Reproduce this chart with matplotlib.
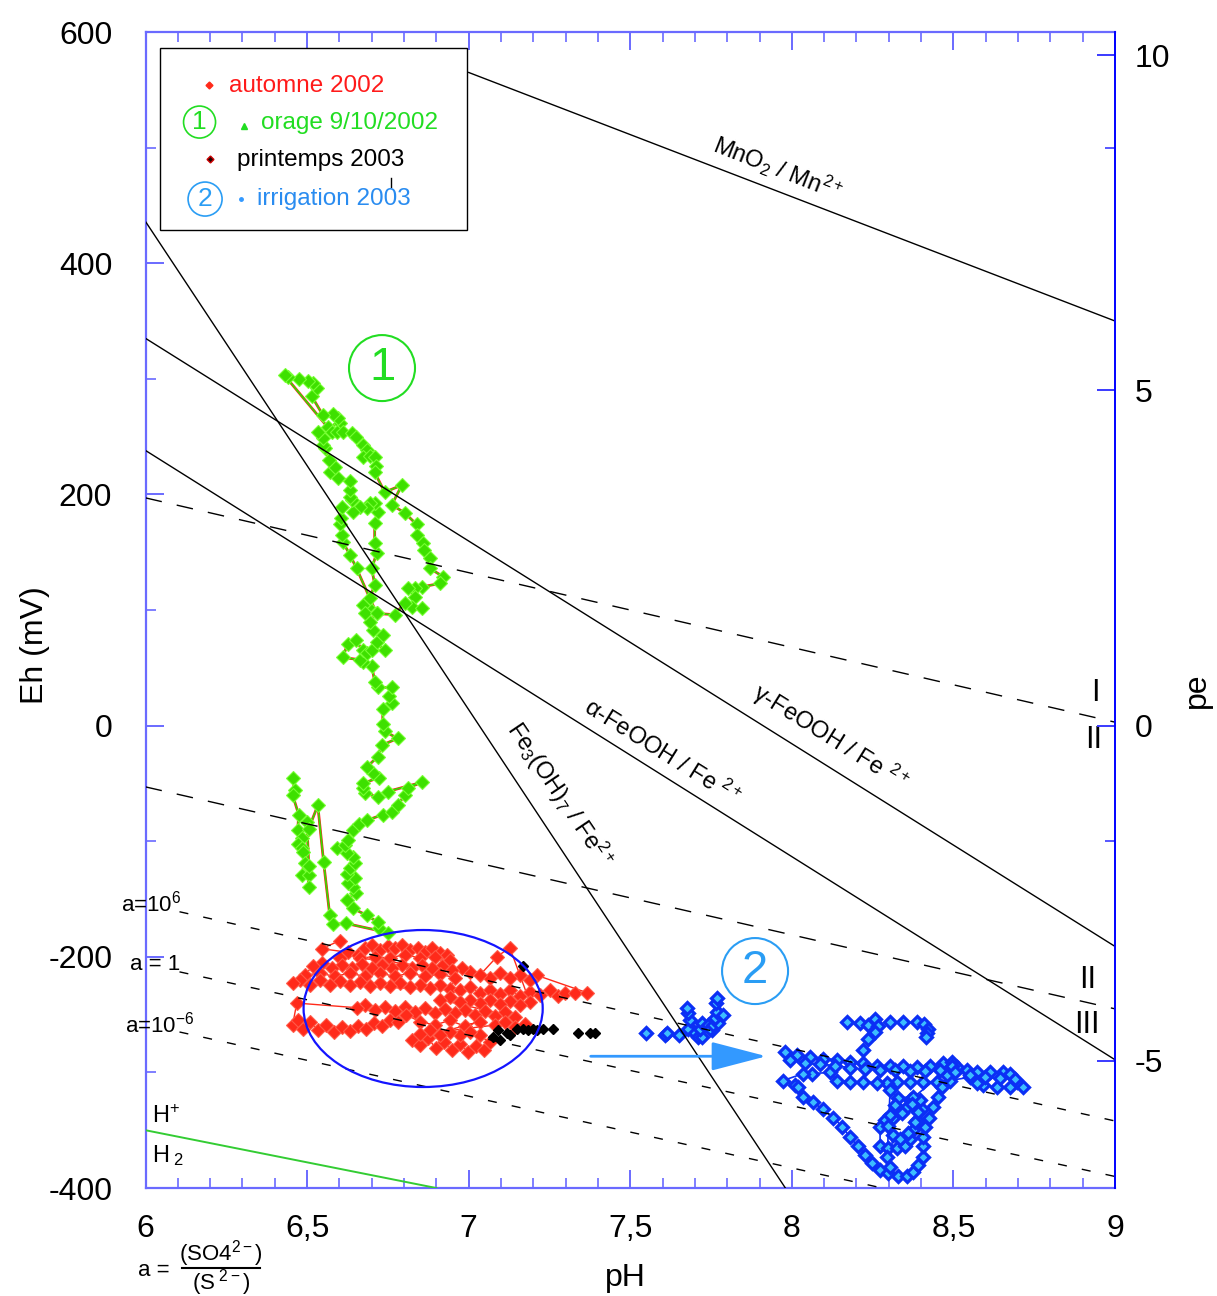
import matplotlib
matplotlib.use('Agg')
import matplotlib.pyplot as plt
from matplotlib.patches import Ellipse, Rectangle, FancyArrowPatch, ArrowStyle
from matplotlib.lines import Line2D
from matplotlib.ticker import MultipleLocator, FixedLocator, FuncFormatter

plt.rcParams['font.family'] = ['Liberation Sans', 'DejaVu Sans']
plt.rcParams['mathtext.fontset'] = 'custom'
plt.rcParams['mathtext.rm'] = 'Liberation Sans'
plt.rcParams['mathtext.it'] = 'Liberation Sans:italic'
plt.rcParams['mathtext.bf'] = 'Liberation Sans:bold'

# ---------------- data ----------------
# storm of 9/10/2002 (green)
orage_ph = [6.455, 6.461, 6.455, 6.474, 6.471, 6.483, 6.471, 6.483, 6.486, 6.492, 6.483, 6.505, 6.505, 6.505, 6.499, 6.505, 6.533, 6.551, 6.570, 6.579, 6.619,
            6.749, 6.722, 6.718, 6.684, 6.641, 6.622, 6.650, 6.641, 6.626, 6.647, 6.622, 6.632, 6.647, 6.641, 6.622, 6.592, 6.616, 6.626, 6.641, 6.660,
            6.684, 6.734, 6.762, 6.780, 6.802, 6.811, 6.855, 6.749, 6.718, 6.678, 6.672, 6.672, 6.722, 6.703, 6.684, 6.718, 6.731, 6.780, 6.740, 6.734,
            6.734, 6.762, 6.753, 6.762, 6.718, 6.709, 6.700, 6.672, 6.663, 6.610, 6.626, 6.650, 6.672, 6.684, 6.700, 6.740, 6.715, 6.734, 6.703, 6.694,
            6.715, 6.688, 6.672,
            6.678, 6.694, 6.709, 6.700, 6.715, 6.709, 6.709, 6.718, 6.709, 6.694, 6.684, 6.663, 6.641, 6.638, 6.632, 6.632, 6.632, 6.595, 6.570, 6.585,
            6.567, 6.554, 6.548, 6.548, 6.533, 6.564, 6.601, 6.595, 6.579, 6.548, 6.514, 6.530, 6.517, 6.502, 6.474, 6.440, 6.430,
            6.576, 6.592, 6.610, 6.638, 6.650, 6.672, 6.684, 6.672, 6.694, 6.709, 6.712, 6.709, 6.740, 6.793, 6.762, 6.802, 6.839, 6.839, 6.858, 6.861,
            6.880, 6.880, 6.920, 6.911, 6.855, 6.833, 6.811, 6.833, 6.824, 6.855, 6.802, 6.771, 6.715,
            6.653, 6.632, 6.610, 6.607, 6.601, 6.604, 6.607]
orage_eh = [-45, -56, -60, -77, -90, -97, -102, -106, -109, -119, -129, -129, -140, -121, -83, -89, -69, -118, -164, -172, -171,
            -179, -175, -170, -164, -158, -151, -145, -140, -136, -132, -128, -123, -119, -114, -110, -106, -103, -99, -90, -85,
            -82, -77, -75, -69, -60, -54, -49, -57, -62, -58, -54, -50, -45, -41, -36, -27, -17, -11, -5, 1,
            14, 20, 26, 33, 33, 38, 52, 55, 57, 59, 71, 74, 65, 63, 65, 65, 72, 78, 83, 90,
            97, 103, 104,
            97, 110, 122, 136, 149, 158, 175, 185, 193, 193, 188, 189, 185, 195, 198, 204, 212, 214, 219, 224,
            230, 240, 243, 249, 254, 258, 262, 266, 270, 269, 285, 292, 296, 298, 300, 302, 303,
            254, 254, 254, 253, 250, 243, 238, 232, 233, 232, 225, 219, 202, 208, 191, 184, 174, 165, 158, 152,
            145, 136, 129, 123, 120, 119, 119, 111, 103, 102, 106, 96, 97,
            136, 148, 159, 165, 174, 180, 189]

# autumn 2002 (red)
automne_ph = [6.601, 6.545, 6.626, 6.601, 6.657,
              6.678, 6.700, 6.725, 6.749, 6.771, 6.793, 6.818, 6.842, 6.864, 6.886, 6.911, 6.932,
              6.941, 6.895, 6.849, 6.802, 6.756, 6.709, 6.663,
              7.003, 6.979, 6.948, 6.917, 6.886, 6.855, 6.824, 6.793, 6.762, 6.731, 6.700, 6.669, 6.638, 6.607, 6.576, 6.545, 6.517,
              6.492, 6.539, 6.585, 6.632, 6.678, 6.725, 6.771, 6.818, 6.864, 6.911, 6.957,
              6.941, 6.911, 6.880, 6.849, 6.818, 6.787, 6.756, 6.725, 6.694, 6.663, 6.632, 6.601, 6.570, 6.539, 6.508, 6.477, 6.455,
              6.972, 7.003, 7.034, 7.065, 7.096, 7.127, 7.158, 7.189, 7.220, 7.251, 7.276, 7.298, 7.329, 7.366,
              7.211, 7.189, 7.158, 7.127, 7.096, 7.065, 7.034, 7.087, 7.127,
              7.189, 7.158, 7.127, 7.096, 7.065, 7.034, 7.003, 6.972, 6.941, 6.911,
              7.143, 7.112, 7.081, 7.050, 7.019, 6.988, 6.957, 6.926, 6.895, 6.864, 6.833, 6.802, 6.771, 6.740, 6.709, 6.678, 6.653,
              6.468, 6.455, 6.471, 6.486, 6.508, 6.533, 6.557, 6.582, 6.607, 6.632, 6.657, 6.681, 6.706, 6.731, 6.756, 6.780, 6.805,
              6.849, 6.895, 6.941, 6.988, 7.034,
              6.824, 6.849, 6.873, 6.898, 6.923, 6.948, 6.972, 6.997, 7.022, 7.047, 7.065, 7.034, 7.003, 6.972, 6.941, 6.911, 6.880, 6.849,
              7.081, 7.112, 7.143, 7.174]
automne_eh = [-186, -193, -196, -201, -198,
              -192, -190, -194, -191, -192, -190, -194, -192, -196, -192, -197, -198,
              -203, -200, -201, -198, -201, -200, -201,
              -213, -210, -211, -208, -210, -207, -210, -207, -210, -207, -210, -206, -210, -207, -210, -205, -208,
              -216, -214, -217, -214, -217, -214, -217, -214, -217, -215, -218,
              -228, -224, -227, -224, -226, -223, -225, -223, -225, -222, -224, -221, -224, -220, -224, -220, -223,
              -229, -226, -231, -229, -232, -229, -234, -230, -233, -229, -234, -231, -231, -231,
              -216, -220, -216, -218, -214, -218, -216, -200, -192,
              -239, -242, -238, -241, -237, -240, -237, -239, -235, -237,
              -252, -248, -251, -247, -250, -246, -249, -245, -249, -244, -248, -243, -247, -243, -246, -242, -244,
              -240, -259, -255, -262, -256, -263, -259, -265, -261, -264, -260, -262, -257, -260, -255, -256, -250,
              -256, -259, -255, -260, -256,
              -272, -276, -270, -279, -274, -281, -275, -282, -277, -281, -274, -268, -265, -268, -265, -268, -263, -267,
              -259, -256, -261, -258]

# spring 2003 (black)
printemps_ph = [7.168, 7.090, 7.075, 7.096, 7.118, 7.127, 7.149, 7.168, 7.183, 7.199, 7.211, 7.230, 7.260, 7.338, 7.375, 7.391]
printemps_eh = [-208, -263, -269, -272, -266, -268, -262, -262, -263, -262, -263, -262, -262, -266, -266, -266]

# irrigation 2003 (blue)
irrig_a_ph = [7.691, 7.679, 7.685, 7.679, 7.675, 7.700, 7.710, 7.722, 7.716, 7.722, 7.741, 7.753, 7.747, 7.756, 7.771, 7.762, 7.768, 7.765, 7.768, 7.787]
irrig_a_eh = [-263, -262, -255, -249, -244, -266, -269, -269, -262, -257, -259, -263, -262, -259, -257, -253, -248, -240, -236, -250]
irrig_pts_ph = [7.549, 7.607, 7.614, 7.651, 8.171, 8.211, 8.236, 8.258, 8.267, 8.258, 8.236, 8.221, 8.304, 8.344, 8.388, 8.409, 8.422, 8.419, 8.416]
irrig_pts_eh = [-266, -268, -266, -268, -256, -257, -259, -254, -260, -265, -271, -281, -256, -256, -256, -258, -262, -266, -269]
irrig_b_ph = [7.979, 8.016, 8.056, 8.097, 8.140, 8.180, 8.221, 8.264, 8.304, 8.344, 8.388, 8.428, 8.468, 8.496, 8.512, 8.543, 8.574, 8.614, 8.654, 8.676,
              8.697, 8.716, 8.676, 8.636, 8.592, 8.574, 8.552, 8.490, 8.450, 8.406, 8.366, 8.326, 8.295, 8.264, 8.221, 8.180, 8.140, 8.118, 8.063, 8.035,
              7.973, 8.010, 8.019, 8.035, 8.066, 8.097, 8.128, 8.156, 8.180, 8.205, 8.227, 8.248, 8.273, 8.298, 8.329, 8.357, 8.375, 8.391, 8.406, 8.406,
              8.406, 8.412, 8.425, 8.437, 8.453, 8.465, 8.481, 8.496,
              8.366, 8.357, 8.341, 8.313, 8.289, 8.273, 8.273, 8.298, 8.326, 8.351, 8.366, 8.375, 8.388, 8.403, 8.397, 8.375, 8.329, 8.304, 8.295, 8.304,
              8.320, 8.304, 8.298, 8.313, 8.335, 8.360, 8.382, 8.391, 8.372]
irrig_b_eh = [-282, -285, -287, -288, -289, -291, -292, -294, -294, -294, -295, -294, -292, -291, -295, -298, -300, -300, -300, -301,
              -308, -313, -313, -313, -311, -309, -304, -307, -308, -308, -308, -308, -309, -309, -308, -308, -307, -300, -301, -301,
              -307, -311, -313, -321, -326, -332, -339, -347, -356, -364, -371, -378, -384, -387, -390, -390, -386, -380, -373, -364,
              -356, -347, -339, -330, -321, -313, -302, -294,
              -324, -330, -335, -339, -341, -347, -364, -365, -365, -364, -358, -350, -341, -332, -324, -321, -322, -315, -373, -382,
              -328, -337, -346, -354, -358, -352, -343, -334, -327]
irrig_c_ph = [7.994, 8.041, 8.087, 8.134, 8.180, 8.227, 8.273, 8.320, 8.366, 8.413, 8.459, 8.505, 8.552, 8.598, 8.645, 8.691]
irrig_c_eh = [-289, -292, -293, -294, -296, -297, -298, -298, -299, -299, -298, -300, -302, -304, -305, -306]

# stability boundaries (pH, Eh endpoints)
mn_ph, mn_eh = [7.0, 9.0], [565, 350]
fe3_ph, fe3_eh = [6.0, 7.98], [436, -400]
gam_ph, gam_eh = [6.0, 9.0], [335, -191]
alp_ph, alp_eh = [6.0, 9.0], [238, -289]
dI_ph, dI_eh = [6.0, 9.0], [197, 3]
dII_ph, dII_eh = [6.0, 9.0], [-53, -245]
a6_ph, a6_eh = [6.105, 9.0], [-161, -342]
a0_ph, a0_eh = [6.105, 9.0], [-213, -390]
am6_ph, am6_eh = [6.105, 8.28], [-265, -400]
h_ph, h_eh = [6.0, 6.9], [-350, -400]

x_ticks = [6, 6.5, 7, 7.5, 8, 8.5, 9]
y_ticks = [-400, -200, 0, 200, 400, 600]
pe_ticks = [-5, 0, 5, 10]
PE_FACTOR = 58.0

# ---------------- figure ----------------
fig = plt.figure(figsize=(12.17, 12.96), dpi=100)
ax = fig.add_axes([0.1196, 0.0833, 0.7966, 0.8920])
ax.set_xlim(6, 9)
ax.set_ylim(-400, 600)

spine_c = '#6a6aff'
for s in ['left', 'top', 'bottom']:
    ax.spines[s].set_color(spine_c)
    ax.spines[s].set_linewidth(1.6)
ax.spines['right'].set_visible(False)

ax.xaxis.set_major_locator(FixedLocator(x_ticks))
ax.xaxis.set_minor_locator(MultipleLocator(0.1))
ax.yaxis.set_major_locator(FixedLocator(y_ticks))
ax.yaxis.set_minor_locator(MultipleLocator(100))
ax.xaxis.set_major_formatter(FuncFormatter(lambda v, p: ('%g' % v).replace('.', ',')))
ax.yaxis.set_major_formatter(FuncFormatter(lambda v, p: '%d' % v))
ax.tick_params(which='both', direction='in', top=True, right=False, color=spine_c)
ax.tick_params(which='major', length=13, width=1.4, labelsize=23)
ax.tick_params(which='minor', length=7, width=1.2)
ax.tick_params(axis='x', which='major', pad=19)
ax.tick_params(axis='y', which='major', pad=24)

ax2 = ax.twinx()
ax2.set_ylim(-400 / PE_FACTOR, 600 / PE_FACTOR)
for s in ['left', 'top', 'bottom']:
    ax2.spines[s].set_visible(False)
ax2.spines['right'].set_color('#0000ff')
ax2.spines['right'].set_linewidth(1.4)
ax2.yaxis.set_major_locator(FixedLocator(pe_ticks))
ax2.yaxis.set_minor_locator(FixedLocator([500 / PE_FACTOR, -100 / PE_FACTOR]))
ax2.yaxis.set_major_formatter(FuncFormatter(lambda v, p: '%d' % v))
ax2.tick_params(which='both', direction='in', color='#3a3aff')
ax2.tick_params(which='major', length=13, width=1.4, labelsize=23, pad=14)
ax2.tick_params(which='minor', length=7, width=1.2)

# boundary lines
lk = dict(color='black', lw=1.0, zorder=6)
ax.plot(mn_ph, mn_eh, **lk)
ax.plot(fe3_ph, fe3_eh, **lk)
ax.plot(gam_ph, gam_eh, **lk)
ax.plot(alp_ph, alp_eh, **lk)
ax.plot(dI_ph, dI_eh, color='black', lw=1.0, dashes=(12, 11), zorder=6)
ax.plot(dII_ph, dII_eh, color='black', lw=1.0, dashes=(12, 11), zorder=6)
for xs, ys in [(a6_ph, a6_eh), (a0_ph, a0_eh), (am6_ph, am6_eh)]:
    ax.plot(xs, ys, color='black', lw=1.0, dashes=(6.5, 11), zorder=6)
ax.plot(h_ph, h_eh, color='#33cc33', lw=1.4, zorder=6)

# data series
ax.plot(automne_ph, automne_eh, '-', color='#ff2a1a', lw=1.0, zorder=3)
ax.plot(automne_ph, automne_eh, 'D', ms=7.0, mfc='#ff2a1a', mec='#ff5a48', mew=0.8, zorder=3, ls='none')
ax.plot(orage_ph, orage_eh, '-', color='#ff2020', lw=2.0, zorder=3.5)
ax.plot(orage_ph, orage_eh, '-', color='#33dd00', lw=1.2, zorder=3.6)
ax.plot(orage_ph, orage_eh, 'D', ms=7.0, mfc='#3ee000', mec='#77ff33', mew=0.8, zorder=3.7, ls='none')
ax.plot(printemps_ph, printemps_eh, 'D', ms=5.5, mfc='black', mec='black', zorder=4, ls='none')
blue_mk = dict(marker='D', ms=6.3, mfc='#3cbcff', mec='#0b2ff5', mew=2.3, ls='none', zorder=4)
for xs, ys in [(irrig_a_ph, irrig_a_eh), (irrig_b_ph, irrig_b_eh), (irrig_c_ph, irrig_c_eh)]:
    ax.plot(xs, ys, '-', color='#0b2ff5', lw=1.2, zorder=4)
    ax.plot(xs, ys, **blue_mk)
ax.plot(irrig_pts_ph, irrig_pts_eh, **blue_mk)

# ellipse around autumn cluster
ax.add_patch(Ellipse((6.859, -244.7), 0.740, 135.8, fill=False, ec='#1414ff', lw=1.6, zorder=8))

# arrow
ax.add_patch(FancyArrowPatch((7.369, -286), (7.93, -286),
                             arrowstyle=ArrowStyle('-|>', head_length=1.15, head_width=0.3),
                             mutation_scale=30, color='#3399ff', lw=2, zorder=8))

# numbered circles
def circ(cx, cy, r_px, color, txt, fs, lw=1.5):
    w = 2 * r_px / (ax.bbox.width)
    h = 2 * r_px / (ax.bbox.height)
    ax.add_patch(Ellipse((cx, cy), w, h, transform=ax.transAxes, fill=False, ec=color, lw=lw, zorder=12))
    ax.text(cx, cy, txt, transform=ax.transAxes, color=color, fontsize=fs, ha='center', va='center', zorder=12)

circ(0.2439, 0.7093, 33, '#22dd22', '1', 34)
circ(0.6287, 0.1877, 33, '#2a9df4', '2', 34)

# line labels
ax.text(7.957, 482, r'MnO$_2$ / Mn$^{2+}$', rotation=-21.5, fontsize=17, ha='center', va='center', rotation_mode='anchor', zorder=7)
ax.text(8.118, -10, 'γ-FeOOH / Fe $^{2+}$', rotation=-32, fontsize=17, ha='center', va='center', rotation_mode='anchor', zorder=7)
ax.text(7.598, -23, 'α-FeOOH / Fe $^{2+}$', rotation=-32, fontsize=17, ha='center', va='center', rotation_mode='anchor', zorder=7)
ax.text(7.282, -60, r'Fe$_3$(OH)$_7$ / Fe$^{2+}$', rotation=-56, fontsize=17, ha='center', va='center', rotation_mode='anchor', zorder=7)

ax.text(8.939, 28, 'I', fontsize=22, ha='center', va='center')
ax.text(8.933, -12, 'II', fontsize=22, ha='center', va='center')
ax.text(8.914, -220, 'II', fontsize=22, ha='center', va='center')
ax.text(8.914, -259, 'III', fontsize=22, ha='center', va='center')

ax.text(5.925, -154, r'a=10$^{6}$', fontsize=16, ha='left', va='center', clip_on=False)
ax.text(5.952, -207, 'a = 1', fontsize=16, ha='left', va='center', clip_on=False)
ax.text(5.935, -259, r'a=10$^{-6}$', fontsize=16, ha='left', va='center', clip_on=False)
ax.text(6.02, -338, r'H$^{+}$', fontsize=17, ha='left', va='center')
ax.text(6.02, -372, r'H$_{\ 2}$', fontsize=17, ha='left', va='center')

# legend box
ax.add_patch(Rectangle((0.015, 0.8287), 0.3166, 0.1573, transform=ax.transAxes, fc='white', ec='black', lw=1.0, zorder=10))
lt = dict(transform=ax.transAxes, fontsize=17.5, ha='left', va='center', zorder=11)
ax.plot([0.0655], [0.954], 'D', ms=3.5, color='#ff2a1a', transform=ax.transAxes, zorder=11)
ax.text(0.0861, 0.953, 'automne 2002', color='#ff1a1a', **lt)
ax.plot([0.1011], [0.919], '^', ms=4.5, color='#22dd22', transform=ax.transAxes, zorder=11)
ax.text(0.119, 0.921, 'orage 9/10/2002', color='#22dd22', **lt)
ax.plot([0.0665], [0.890], 'D', ms=3.5, mfc='#200000', mec='#cc0000', transform=ax.transAxes, zorder=11)
ax.text(0.0944, 0.889, 'printemps 2003', color='black', **lt)
ax.plot([0.2533, 0.2533], [0.874, 0.866], color='black', lw=1, transform=ax.transAxes, zorder=11)
ax.plot([0.0985], [0.8555], 'o', ms=2.5, color='#3399ff', transform=ax.transAxes, zorder=11)
ax.text(0.115, 0.8555, 'irrigation 2003', color='#2a8cf0', **lt)


def small_circ(cx, cy, r_px, color, txt):
    w = 2 * r_px / (ax.bbox.width)
    h = 2 * r_px / (ax.bbox.height)
    ax.add_patch(Ellipse((cx, cy), w, h, transform=ax.transAxes, fill=False, ec=color, lw=1.2, zorder=11))
    ax.text(cx, cy, txt, transform=ax.transAxes, color=color, fontsize=19, ha='center', va='center', zorder=11)

small_circ(0.0557, 0.9221, 16, '#22dd22', '1')
small_circ(0.0614, 0.8555, 17, '#2a9df4', '2')

# axis labels
fig.text(0.029, 0.502, 'Eh (mV)', rotation=90, fontsize=23, ha='center', va='center')
fig.text(0.5136, 0.014, 'pH', fontsize=23, ha='center', va='center')
fig.text(0.9836, 0.4676, 'pe', rotation=90, fontsize=23, ha='center', va='center')

# a = (SO4 2-)/(S 2-)
fig.text(0.1134, 0.020, 'a =', fontsize=16, ha='left', va='center')
fig.text(0.1816, 0.0330, r'(SO4$^{2-}$)', fontsize=16, ha='center', va='center')
fig.text(0.1816, 0.0100, r'(S$^{\ 2-}$)', fontsize=16, ha='center', va='center')
fig.add_artist(Line2D([0.1496, 0.2136], [0.0216, 0.0216], color='black', lw=1.5, transform=fig.transFigure))

fig.savefig('out.png', dpi=100)
